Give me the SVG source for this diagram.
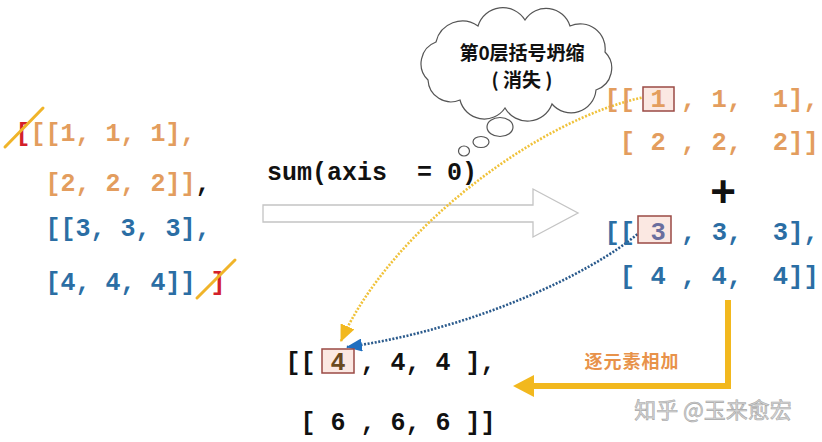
<svg xmlns="http://www.w3.org/2000/svg" width="822" height="442" viewBox="0 0 822 442">
<style>
.code{font-family:"Liberation Mono","DejaVu Sans Mono",monospace;font-weight:bold;font-size:25px;white-space:pre}
.rt{font-size:25.5px}
.or{fill:#e39d5e}
.bl{fill:#2b6ea4}
.bk{fill:#111}
.red{fill:#d3202a}
.cjk{font-family:"Noto Sans CJK SC","Noto Sans",sans-serif;font-weight:bold}
.box{fill:#fbe8e2;stroke:#9a4a44;stroke-width:1.5}
.strike{stroke:#f0b429;stroke-width:3;stroke-linecap:round}
.dot{fill:none;stroke-width:2.6;stroke-dasharray:2 1.6}
</style>
<defs>
<marker id="ay" markerWidth="17" markerHeight="15" refX="16" refY="7.5" orient="auto" markerUnits="userSpaceOnUse" viewBox="0 0 17 15">
<path d="M0,0 L17,7.5 L0,15 Z" fill="#f2b81e"/>
</marker>
<marker id="ab" markerWidth="16" markerHeight="13" refX="15" refY="6.5" orient="auto" markerUnits="userSpaceOnUse" viewBox="0 0 16 13">
<path d="M0,0 L16,6.5 L0,13 Z" fill="#1f6fc0"/>
</marker>
</defs>
<rect width="822" height="442" fill="#fff"/>

<g id="big-arrow">
<path d="M263,205 L533,205 L533,189 L578,213 L533,237 L533,222 L263,222 Z" fill="#fff" stroke="#c4c4c4" stroke-width="1.3"/>
</g>

<g id="thought-cloud">
<path d="M428,80 A23,23 0 0 1 436,42 A27,27 0 0 1 478,26 A26,26 0 0 1 525,20 A25,25 0 0 1 570,26 A25,25 0 0 1 605,52 A23,23 0 0 1 596,90 A25,25 0 0 1 552,104 A26,26 0 0 1 505,108 A25,25 0 0 1 460,100 A23,23 0 0 1 428,80 Z" fill="#fff" stroke="#555" stroke-width="1.2"/>
<ellipse cx="500" cy="127" rx="13" ry="9.5" fill="#fff" stroke="#555" stroke-width="1.2"/>
<ellipse cx="481" cy="142" rx="8" ry="5.5" fill="#fff" stroke="#555" stroke-width="1.2"/>
<ellipse cx="464" cy="151" rx="5.5" ry="5" fill="#fff" stroke="#555" stroke-width="1.2"/>
<text class="cjk" x="522" y="60" font-size="19" text-anchor="middle" fill="#111">第0层括号坍缩</text>
<text class="cjk" x="522" y="87" font-size="19" text-anchor="middle" fill="#111" xml:space="preserve">( 消失 )</text>
</g>

<g id="connectors">
<path d="M645,97 C540,118 390,230 341,341" class="dot" stroke="#f0c23a" marker-end="url(#ay)"/>
<path d="M640,232 C590,275 470,330 347,347" class="dot" stroke="#2a5a8c" marker-end="url(#ab)"/>
<path d="M728,300 L728,386 L530,386" fill="none" stroke="#f2b81e" stroke-width="6"/>
<path d="M513,386 L534,375 L534,397 Z" fill="#f2b81e"/>
<text class="cjk" x="632" y="368" font-size="18" text-anchor="middle" fill="#e8924a" letter-spacing="1">逐元素相加</text>
</g>

<g id="input-array">
<text class="code or" x="15.5" y="141" xml:space="preserve"><tspan class="red">[</tspan>[[1, 1, 1],</text>
<text class="code or" x="15.5" y="191" xml:space="preserve">  [2, 2, 2]]<tspan class="bk">,</tspan></text>
<text class="code bl" x="15.5" y="236" xml:space="preserve">  [[3, 3, 3],</text>
<text class="code bl" x="15.5" y="290" xml:space="preserve">  [4, 4, 4]] <tspan class="red">]</tspan></text>
<line class="strike" x1="5" y1="147" x2="43" y2="108"/>
<line class="strike" x1="197" y1="298" x2="235" y2="260"/>
</g>

<g id="sum-label">
<text class="code bk" x="267" y="180" font-size="24" xml:space="preserve">sum(axis  = 0)</text>
</g>

<g id="slice-0">
<rect class="box" x="643" y="87" width="31" height="24"/>
<text class="code rt or" x="604.5" y="107" xml:space="preserve">[[ 1 , 1,  1],</text>
<text class="code rt or" x="604.5" y="150" xml:space="preserve"> [ 2 , 2,  2]]</text>
</g>

<g id="plus">
<text x="723" y="207" font-family="Liberation Sans, Arial, sans-serif" font-weight="bold" font-size="44" text-anchor="middle" fill="#111">+</text>
</g>

<g id="slice-1">
<rect class="box" x="638" y="216" width="33" height="27"/>
<text class="code rt bl" x="604.5" y="240" xml:space="preserve">[[ <tspan fill="#6a6e9e">3</tspan> , 3,  3],</text>
<text class="code rt bl" x="604.5" y="284" xml:space="preserve"> [ 4 , 4,  4]]</text>
</g>

<g id="result">
<rect class="box" x="322" y="349" width="32" height="24"/>
<text class="code bk" x="285.5" y="370" xml:space="preserve">[[ <tspan fill="#6a4a20">4</tspan> , 4, 4 ],</text>
<text class="code bk" x="285.5" y="430" xml:space="preserve"> [ 6 , 6, 6 ]]</text>
</g>

<g id="watermark">
<text x="713" y="418" font-family="Noto Sans CJK SC, Noto Sans, sans-serif" font-size="22" text-anchor="middle" fill="#d4d4d4" stroke="#a8a8a8" stroke-width="0.6">知乎 @玉来愈宏</text>
</g>
</svg>
